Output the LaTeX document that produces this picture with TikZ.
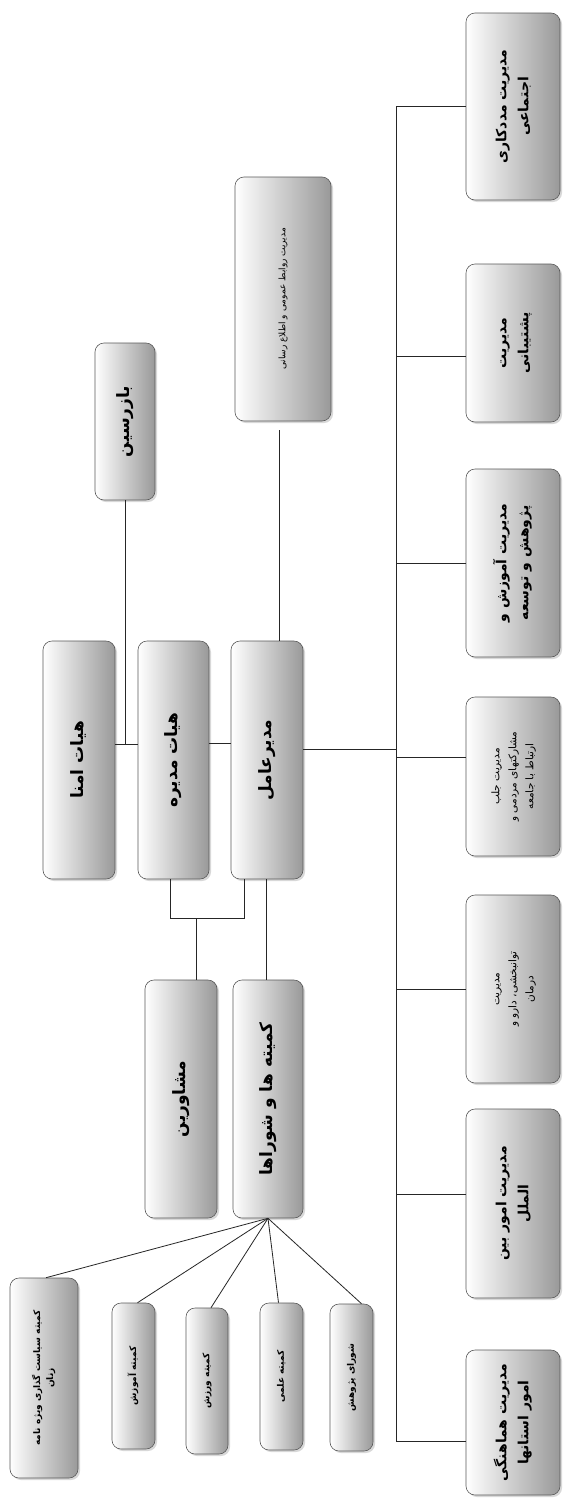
\documentclass[tikz,border=0pt]{standalone}
\usepackage{fontspec}
\usepackage{graphicx}
\newfontfamily\fa[Script=Arabic]{DejaVu Sans}
\TeXXeTstate=1
\usetikzlibrary{shadows}
\newcommand\rt[1]{\beginR #1\endR}
\newcommand\vlab[3]{\rotatebox{90}{\fontsize{#1}{#2}\selectfont\fa\bfseries\begin{tabular}{@{}c@{}}#3\end{tabular}}}
\newcommand\vlabreg[3]{\rotatebox{90}{\fontsize{#1}{#2}\selectfont\fa\begin{tabular}{@{}c@{}}#3\end{tabular}}}
\tikzset{
  box/.style={draw=black!65, line width=0.6pt, rounded corners=9pt, left color=white, right color=black!40,
    drop shadow={shadow xshift=2pt, shadow yshift=-2pt, opacity=0.3}, inner sep=0pt},
  conn/.style={draw=black!85, line width=0.8pt},
}
\begin{document}
\begin{tikzpicture}[x=1pt,y=-1pt]
\useasboundingbox[fill=white] (0,0) rectangle (566,1499);
% main column
\node[box, minimum width=72pt, minimum height=238pt] (amna) at (79,760) {\vlab{17}{22}{\rt{هیات امنا}}};
\node[box, minimum width=71pt, minimum height=238pt] (board) at (173.5,760) {\vlab{17}{22}{\rt{هیات مدیره}}};
\node[box, minimum width=72pt, minimum height=238pt] (ceo) at (267,760) {\vlab{17}{22}{\rt{مدیرعامل}}};
\node[box, minimum width=60pt, minimum height=157pt] (bazras) at (125,421.5) {\vlab{17}{22}{\rt{بازرسین}}};
\node[box, minimum width=96pt, minimum height=244pt] (ravabet) at (283,299) {\vlabreg{9}{12}{\rt{مدیریت روابط عمومی و اطلاع رسانی}}};
\node[box, minimum width=72pt, minimum height=238pt] (moshaver) at (181,1099) {\vlab{17}{22}{\rt{مشاورین}}};
\node[box, minimum width=70pt, minimum height=238pt] (komite) at (268,1099) {\vlab{17}{22}{\rt{کمیته ها و شوراها}}};
% committees
\node[box, minimum width=68pt, minimum height=200pt] (hemayat) at (44,1378) {\vlab{9}{13}{\rt{کمیته سیاست گذاری ویژه نامه}\\\rt{زنان}}};
\node[box, minimum width=43pt, minimum height=146pt] (amoozesh) at (133.5,1376) {\vlab{9}{12}{\rt{کمیته آموزش}}};
\node[box, minimum width=42pt, minimum height=146pt] (varzesh) at (207,1381) {\vlab{9}{12}{\rt{کمیته ورزش}}};
\node[box, minimum width=43pt, minimum height=147pt] (elmi) at (281.5,1376.5) {\vlab{9}{12}{\rt{کمیته علمی}}};
\node[box, minimum width=43pt, minimum height=147pt] (shora) at (351.5,1377.5) {\vlab{9}{12}{\rt{شورای پژوهش}}};
% right column
\node[box, minimum width=94pt, minimum height=187pt] (madad) at (513,106.5) {\vlab{14}{22}{\rt{مدیریت مددکاری}\\\rt{اجتماعی}}};
\node[box, minimum width=94pt, minimum height=158pt] (posht) at (513,343) {\vlab{14}{22}{\rt{مدیریت}\\\rt{پشتیبانی}}};
\node[box, minimum width=94pt, minimum height=188pt] (pazh) at (513,563) {\vlab{14}{22}{\rt{مدیریت آموزش و}\\\rt{پژوهش و توسعه}}};
\node[box, minimum width=94pt, minimum height=159pt] (jalb) at (513,776.5) {\vlabreg{10.5}{17}{\rt{مدیریت جلب}\\\rt{مشارکتهای مردمی و}\\\rt{ارتباط با جامعه}}};
\node[box, minimum width=94pt, minimum height=188pt] (tavan) at (513,989) {\vlabreg{10.5}{17}{\rt{مدیریت}\\\rt{توانبخشی، دارو و}\\\rt{درمان}}};
\node[box, minimum width=94pt, minimum height=189pt] (beyn) at (513,1203.5) {\vlab{14}{22}{\rt{مدیریت امور بین}\\\rt{الملل}}};
\node[box, minimum width=94pt, minimum height=145pt] (ostan) at (513,1422.5) {\vlab{14}{22}{\rt{مدیریت هماهنگی}\\\rt{امور استانها}}};
% connectors
\coordinate (bustop) at (396,106);
\coordinate (busbot) at (396,1441);
\draw[conn] (bustop) -- (busbot);
\draw[conn] (madad.west) -- (madad.west -| bustop);
\draw[conn] ([yshift=-13pt]posht.west) -- ([yshift=-13pt]posht.west -| bustop);
\draw[conn] (pazh.west) -- (pazh.west -| bustop);
\draw[conn] ([yshift=19pt]jalb.west) -- ([yshift=19pt]jalb.west -| bustop);
\draw[conn] (tavan.west) -- (tavan.west -| bustop);
\draw[conn] ([yshift=9pt]beyn.west) -- ([yshift=9pt]beyn.west -| bustop);
\draw[conn] ([yshift=-19pt]ostan.west) -- ([yshift=-19pt]ostan.west -| bustop);
\draw[conn] ([yshift=11pt]ceo.east) -- ([yshift=11pt]ceo.east -| bustop);
% board links
\draw[conn] ([yshift=16pt]amna.east) coordinate (j1) -- ([yshift=16pt]board.west);
\draw[conn] (bazras.south) -- (bazras.south |- j1);
\draw[conn] ([yshift=17pt]board.east) -- ([yshift=17pt]ceo.west);
\draw[conn] (ravabet.south) ++(-4,9) coordinate (r1) -- (r1 |- ceo.north);
% bracket
\coordinate (bl) at (170,918);
\coordinate (br) at (244,918);
\coordinate (bm) at (196,918);
\draw[conn] (bl |- board.south) -- (bl) -- (br) -- (br |- ceo.south);
\draw[conn] (bm) -- (bm |- moshaver.north);
\draw[conn] (komite.north -| 266,0) -- (266,0 |- ceo.south);
% fan
\draw[conn] (komite.south) -- ([xshift=2pt]hemayat.north);
\draw[conn] (komite.south) -- ([xshift=4pt]amoozesh.north);
\draw[conn] (komite.south) -- ([xshift=4pt]varzesh.north);
\draw[conn] (komite.south) -- ([xshift=-3pt]elmi.north);
\draw[conn] (komite.south) -- ([xshift=10pt]shora.north);
\end{tikzpicture}
\end{document}
